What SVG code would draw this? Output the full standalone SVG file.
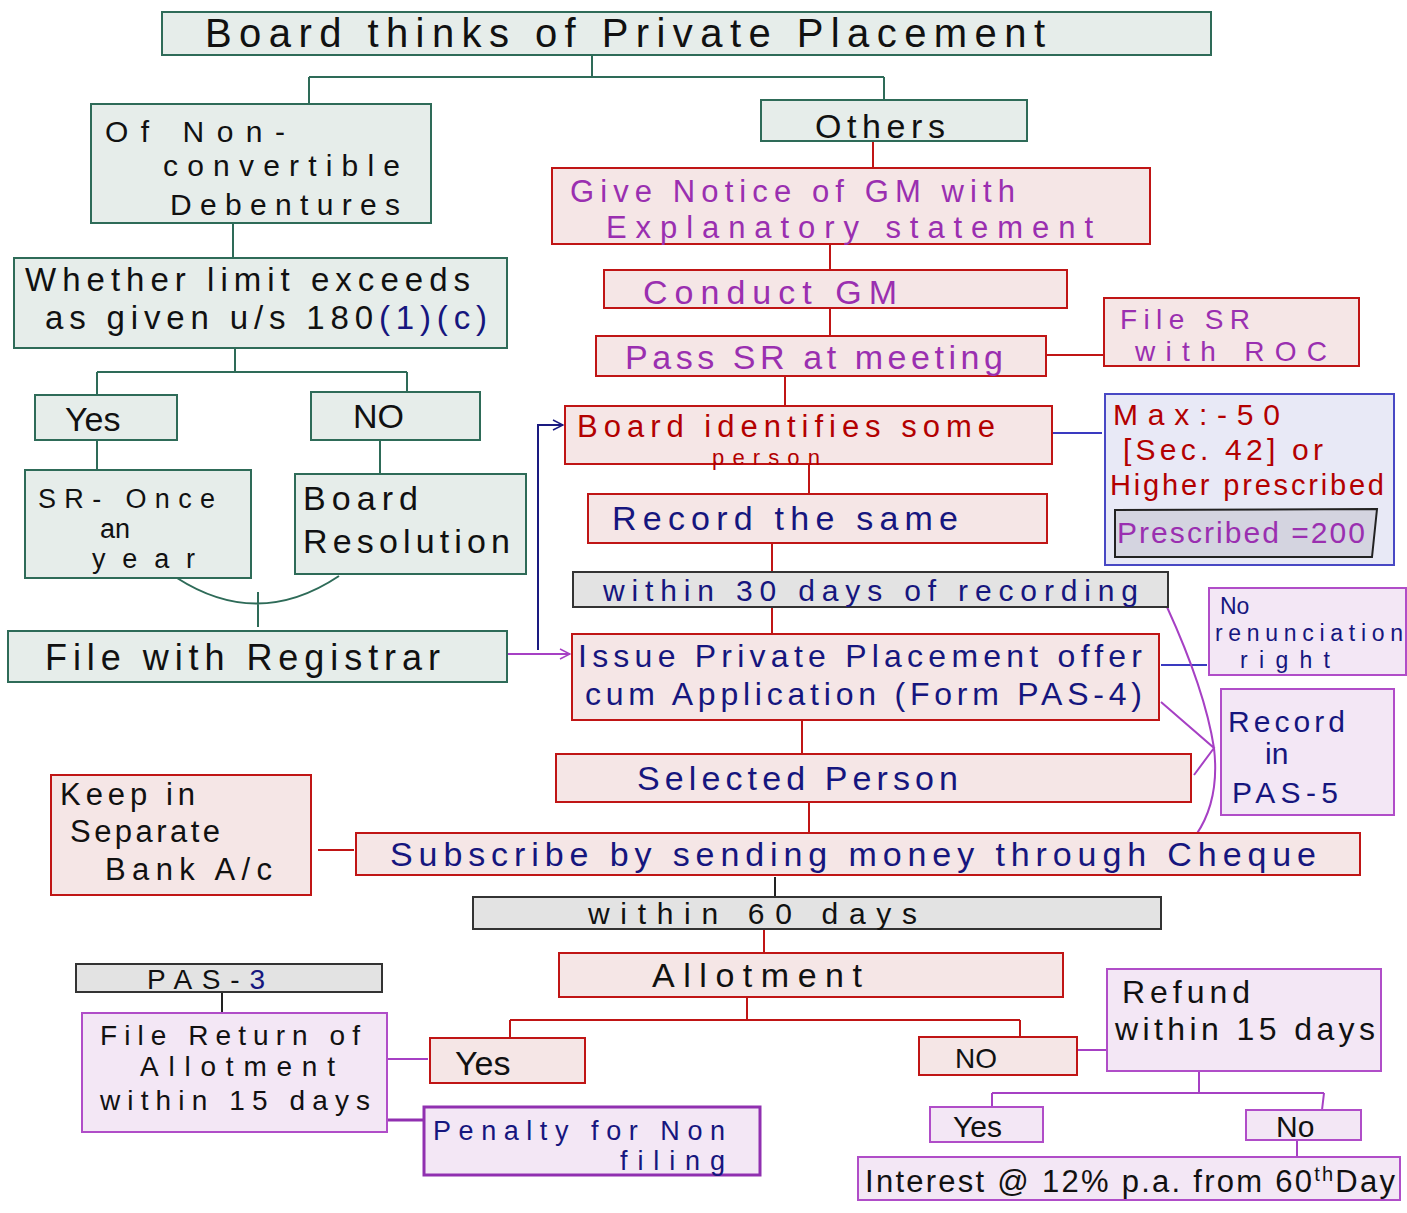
<svg xmlns="http://www.w3.org/2000/svg" width="1407" height="1213" viewBox="0 0 1407 1213" font-size="33">
<defs>
<style>
.g{fill:#e6edea;stroke:#2e6b58;stroke-width:2}
.r{fill:#f5e6e6;stroke:#c01515;stroke-width:2}
.p{fill:#f3e7f5;stroke:#b04dc8;stroke-width:2}
.gr{fill:#e3e3e3;stroke:#333;stroke-width:2}
.b{fill:#e8e9f6;stroke:#4848c4;stroke-width:2}
text{font-family:"Liberation Sans","DejaVu Sans",sans-serif}
.k{fill:#111}.pu{fill:#9a2fb0}.nv{fill:#16167e}.dr{fill:#b30000}
.lg{stroke:#2e6b58;stroke-width:2;fill:none}
.lr{stroke:#c01515;stroke-width:2;fill:none}
.lp{stroke:#a640c4;stroke-width:2;fill:none}
.lb{stroke:#3a3ac0;stroke-width:2;fill:none}
.lk{stroke:#222;stroke-width:2;fill:none}
</style>
<marker id="ap" viewBox="0 0 12 12" refX="11" refY="6" markerWidth="12" markerHeight="12" markerUnits="userSpaceOnUse" orient="auto"><path d="M1,1 L11,6 L1,11" fill="none" stroke="#a640c4" stroke-width="1.5"/></marker>
<marker id="an" viewBox="0 0 12 12" refX="11" refY="6" markerWidth="12" markerHeight="12" markerUnits="userSpaceOnUse" orient="auto"><path d="M1,1 L11,6 L1,11" fill="none" stroke="#1a1a80" stroke-width="1.5"/></marker>
</defs>

<g id="connectors">
<path class="lg" d="M592,55 V77 M309,77 H884 M309,77 V104 M884,77 V100"/>
<path class="lr" d="M873,141 V168 M830,244 V270 M830,308 V336 M785,376 V406 M1046,355 H1104 M809,464 V494 M772,543 V572 M772,607 V634 M802,720 V754 M809,802 V833 M318,850 H354 M764,929 V953 M747,997 V1020 M510,1020 H1020 M510,1020 V1038 M1020,1020 V1037"/>
<path class="lb" d="M1052,433 H1102 M1161,665 H1207"/>
<path class="lk" d="M775,877 V897 M222,992 V1013"/>
<path class="lg" d="M233,223 V258 M235,348 V372 M97,372 H407 M97,372 V395 M407,372 V392 M97,440 V470 M380,440 V474 M177,578 Q258,630 339,576 M258,592 V627"/>
<path class="lp" d="M1167,607 Q1205,690 1214,748 Q1220,800 1196,835 M1161,702 L1214,748 L1194,775 M1077,1050 H1107 M387,1059 H428 M1199,1071 V1093 M992,1093 H1324 M992,1093 V1107 M1324,1093 L1322,1110 M1297,1140 V1157"/>
<path d="M387,1120 H424" stroke="#9030b0" stroke-width="3" fill="none"/>
<path d="M507,654 H570" stroke="#a640c4" stroke-width="2" fill="none" marker-end="url(#ap)"/>
<path d="M538,650 V425 H563" stroke="#1a1a80" stroke-width="2" fill="none" marker-end="url(#an)"/>
</g>

<g id="title"><rect class="g" x="162" y="12" width="1049" height="43"/><text class="k" x="205" y="47" font-size="40" textLength="840" lengthAdjust="spacing">Board thinks of Private Placement</text></g>

<g id="ncd"><rect class="g" x="91" y="104" width="340" height="119"/>
<text class="k" x="105" y="142" font-size="30" textLength="180" lengthAdjust="spacing">Of Non-</text>
<text class="k" x="163" y="176" font-size="30" textLength="237" lengthAdjust="spacing">convertible</text>
<text class="k" x="170" y="215" font-size="30" textLength="230" lengthAdjust="spacing">Debentures</text></g>

<g id="others"><rect class="g" x="761" y="100" width="266" height="41"/><text class="k" x="815" y="138" font-size="34" textLength="130" lengthAdjust="spacing">Others</text></g>

<g id="notice"><rect class="r" x="552" y="168" width="598" height="76"/>
<text class="pu" x="570" y="202" font-size="31" textLength="445" lengthAdjust="spacing">Give Notice of GM with</text>
<text class="pu" x="606" y="238" font-size="31" textLength="487" lengthAdjust="spacing">Explanatory statement</text></g>

<g id="conduct"><rect class="r" x="604" y="270" width="463" height="38"/><text class="pu" x="643" y="304" font-size="34" textLength="254" lengthAdjust="spacing">Conduct GM</text></g>

<g id="passsr"><rect class="r" x="596" y="336" width="450" height="40"/><text class="pu" x="625" y="369" font-size="34" textLength="378" lengthAdjust="spacing">Pass SR at meeting</text></g>

<g id="filesr"><rect class="r" x="1104" y="298" width="255" height="68"/>
<text class="pu" x="1120" y="329" font-size="28" textLength="130" lengthAdjust="spacing">File SR</text>
<text class="pu" x="1135" y="361" font-size="28" textLength="192" lengthAdjust="spacing">with ROC</text></g>

<g id="identify"><rect class="r" x="565" y="406" width="487" height="58"/>
<text class="dr" x="577" y="437" font-size="31" textLength="418" lengthAdjust="spacing">Board identifies some</text>
<text class="dr" x="712" y="465" font-size="22" textLength="108" lengthAdjust="spacing">person</text></g>

<g id="max"><rect class="b" x="1105" y="394" width="289" height="171"/>
<text class="dr" x="1113" y="425" font-size="30" textLength="167" lengthAdjust="spacing">Max:-50</text>
<text class="dr" x="1123" y="460" font-size="30" textLength="200" lengthAdjust="spacing">[Sec. 42] or</text>
<text class="dr" x="1110" y="495" font-size="29" textLength="274" lengthAdjust="spacing">Higher prescribed</text>
<path d="M1115,510 L1377,509 L1372,557 L1115,557 Z" fill="#d4d4e0" stroke="#222" stroke-width="2"/>
<text class="pu" x="1117" y="543" font-size="30" textLength="248" lengthAdjust="spacing">Prescribed =200</text></g>

<g id="record"><rect class="r" x="588" y="494" width="459" height="49"/><text class="nv" x="612" y="530" font-size="34" textLength="346" lengthAdjust="spacing">Record the same</text></g>

<g id="within30"><rect class="gr" x="573" y="572" width="595" height="35"/><text class="nv" x="603" y="601" font-size="30" textLength="535" lengthAdjust="spacing">within 30 days of recording</text></g>

<g id="issue"><rect class="r" x="572" y="634" width="587" height="86"/>
<text class="nv" x="578" y="667" font-size="32" textLength="564" lengthAdjust="spacing">Issue Private Placement offer</text>
<text class="nv" x="585" y="705" font-size="32" textLength="557" lengthAdjust="spacing">cum Application (Form PAS-4)</text></g>

<g id="norenun"><rect class="p" x="1209" y="588" width="197" height="87"/>
<text class="nv" x="1220" y="614" font-size="23">No</text>
<text class="nv" x="1215" y="641" font-size="23" textLength="188" lengthAdjust="spacing">renunciation</text>
<text class="nv" x="1240" y="668" font-size="23" textLength="90" lengthAdjust="spacing">right</text></g>

<g id="pas5"><rect class="p" x="1221" y="689" width="173" height="126"/>
<text class="nv" x="1228" y="732" font-size="30" textLength="117" lengthAdjust="spacing">Record</text>
<text class="nv" x="1265" y="764" font-size="30">in</text>
<text class="nv" x="1232" y="803" font-size="30" textLength="106" lengthAdjust="spacing">PAS-5</text></g>

<g id="selected"><rect class="r" x="556" y="754" width="635" height="48"/><text class="nv" x="637" y="790" font-size="34" textLength="321" lengthAdjust="spacing">Selected Person</text></g>

<g id="subscribe"><rect class="r" x="356" y="833" width="1004" height="42"/><text class="nv" x="390" y="866" font-size="34" textLength="926" lengthAdjust="spacing">Subscribe by sending money through Cheque</text></g>

<g id="keep"><rect class="r" x="51" y="775" width="260" height="120"/>
<text class="k" x="60" y="805" font-size="31" textLength="135" lengthAdjust="spacing">Keep in</text>
<text class="k" x="70" y="842" font-size="31" textLength="150" lengthAdjust="spacing">Separate</text>
<text class="k" x="105" y="880" font-size="31" textLength="167" lengthAdjust="spacing">Bank A/c</text></g>

<g id="within60"><rect class="gr" x="473" y="897" width="688" height="32"/><text class="k" x="588" y="924" font-size="30" textLength="329" lengthAdjust="spacing">within 60 days</text></g>

<g id="allot"><rect class="r" x="559" y="953" width="504" height="44"/><text class="k" x="652" y="987" font-size="34" textLength="210" lengthAdjust="spacing">Allotment</text></g>

<g id="allotyes"><rect class="r" x="430" y="1038" width="155" height="45"/><text class="k" x="455" y="1075" font-size="34">Yes</text></g>
<g id="allotno"><rect class="r" x="919" y="1037" width="158" height="38"/><text class="k" x="955" y="1068" font-size="28">NO</text></g>

<g id="refund"><rect class="p" x="1107" y="969" width="274" height="102"/>
<text class="k" x="1122" y="1003" font-size="32" textLength="128" lengthAdjust="spacing">Refund</text>
<text class="k" x="1115" y="1040" font-size="32" textLength="260" lengthAdjust="spacing">within 15 days</text></g>

<g id="refyes"><rect class="p" x="930" y="1107" width="113" height="35"/><text class="k" x="953" y="1137" font-size="30">Yes</text></g>
<g id="refno"><rect class="p" x="1246" y="1110" width="115" height="30"/><text class="k" x="1276" y="1137" font-size="30">No</text></g>

<g id="interest"><rect class="p" x="858" y="1157" width="542" height="43"/><text class="k" x="865" y="1192" font-size="31" textLength="530" lengthAdjust="spacing">Interest @ 12% p.a. from 60<tspan font-size="20" dy="-11">th</tspan><tspan dy="11">Day</tspan></text></g>

<g id="pas3"><rect class="gr" x="76" y="964" width="306" height="28"/><text class="k" x="147" y="989" font-size="28" textLength="118" lengthAdjust="spacing">PAS-<tspan class="nv">3</tspan></text></g>

<g id="fileret"><rect class="p" x="82" y="1013" width="305" height="119"/>
<text class="k" x="100" y="1045" font-size="28" textLength="260" lengthAdjust="spacing">File Return of</text>
<text class="k" x="140" y="1076" font-size="28" textLength="195" lengthAdjust="spacing">Allotment</text>
<text class="k" x="100" y="1110" font-size="28" textLength="270" lengthAdjust="spacing">within 15 days</text></g>

<g id="penalty"><rect x="424" y="1107" width="336" height="68" fill="#f3e7f5" stroke="#9030b0" stroke-width="3"/>
<text class="nv" x="433" y="1140" font-size="27" textLength="292" lengthAdjust="spacing">Penalty for Non</text>
<text class="nv" x="620" y="1170" font-size="27" textLength="105" lengthAdjust="spacing">filing</text></g>

<g id="whether"><rect class="g" x="14" y="258" width="493" height="90"/>
<text class="k" x="25" y="291" font-size="33" textLength="445" lengthAdjust="spacing">Whether limit exceeds</text>
<text class="k" x="45" y="329" font-size="33" textLength="442" lengthAdjust="spacing">as given u/s 180<tspan class="nv">(1)(c)</tspan></text></g>

<g id="yes1"><rect class="g" x="35" y="395" width="142" height="45"/><text class="k" x="65" y="431" font-size="34">Yes</text></g>
<g id="no1"><rect class="g" x="311" y="392" width="169" height="48"/><text class="k" x="353" y="428" font-size="34">NO</text></g>

<g id="sronce"><rect class="g" x="25" y="470" width="226" height="108"/>
<text class="k" x="38" y="508" font-size="27" textLength="177" lengthAdjust="spacing">SR- Once</text>
<text class="k" x="100" y="538" font-size="27">an</text>
<text class="k" x="92" y="568" font-size="27" textLength="103" lengthAdjust="spacing">year</text></g>

<g id="boardres"><rect class="g" x="295" y="474" width="231" height="100"/>
<text class="k" x="303" y="510" font-size="34" textLength="115" lengthAdjust="spacing">Board</text>
<text class="k" x="303" y="553" font-size="34" textLength="207" lengthAdjust="spacing">Resolution</text></g>

<g id="filereg"><rect class="g" x="8" y="631" width="499" height="51"/><text class="k" x="45" y="670" font-size="36" textLength="395" lengthAdjust="spacing">File with Registrar</text></g>
</svg>
